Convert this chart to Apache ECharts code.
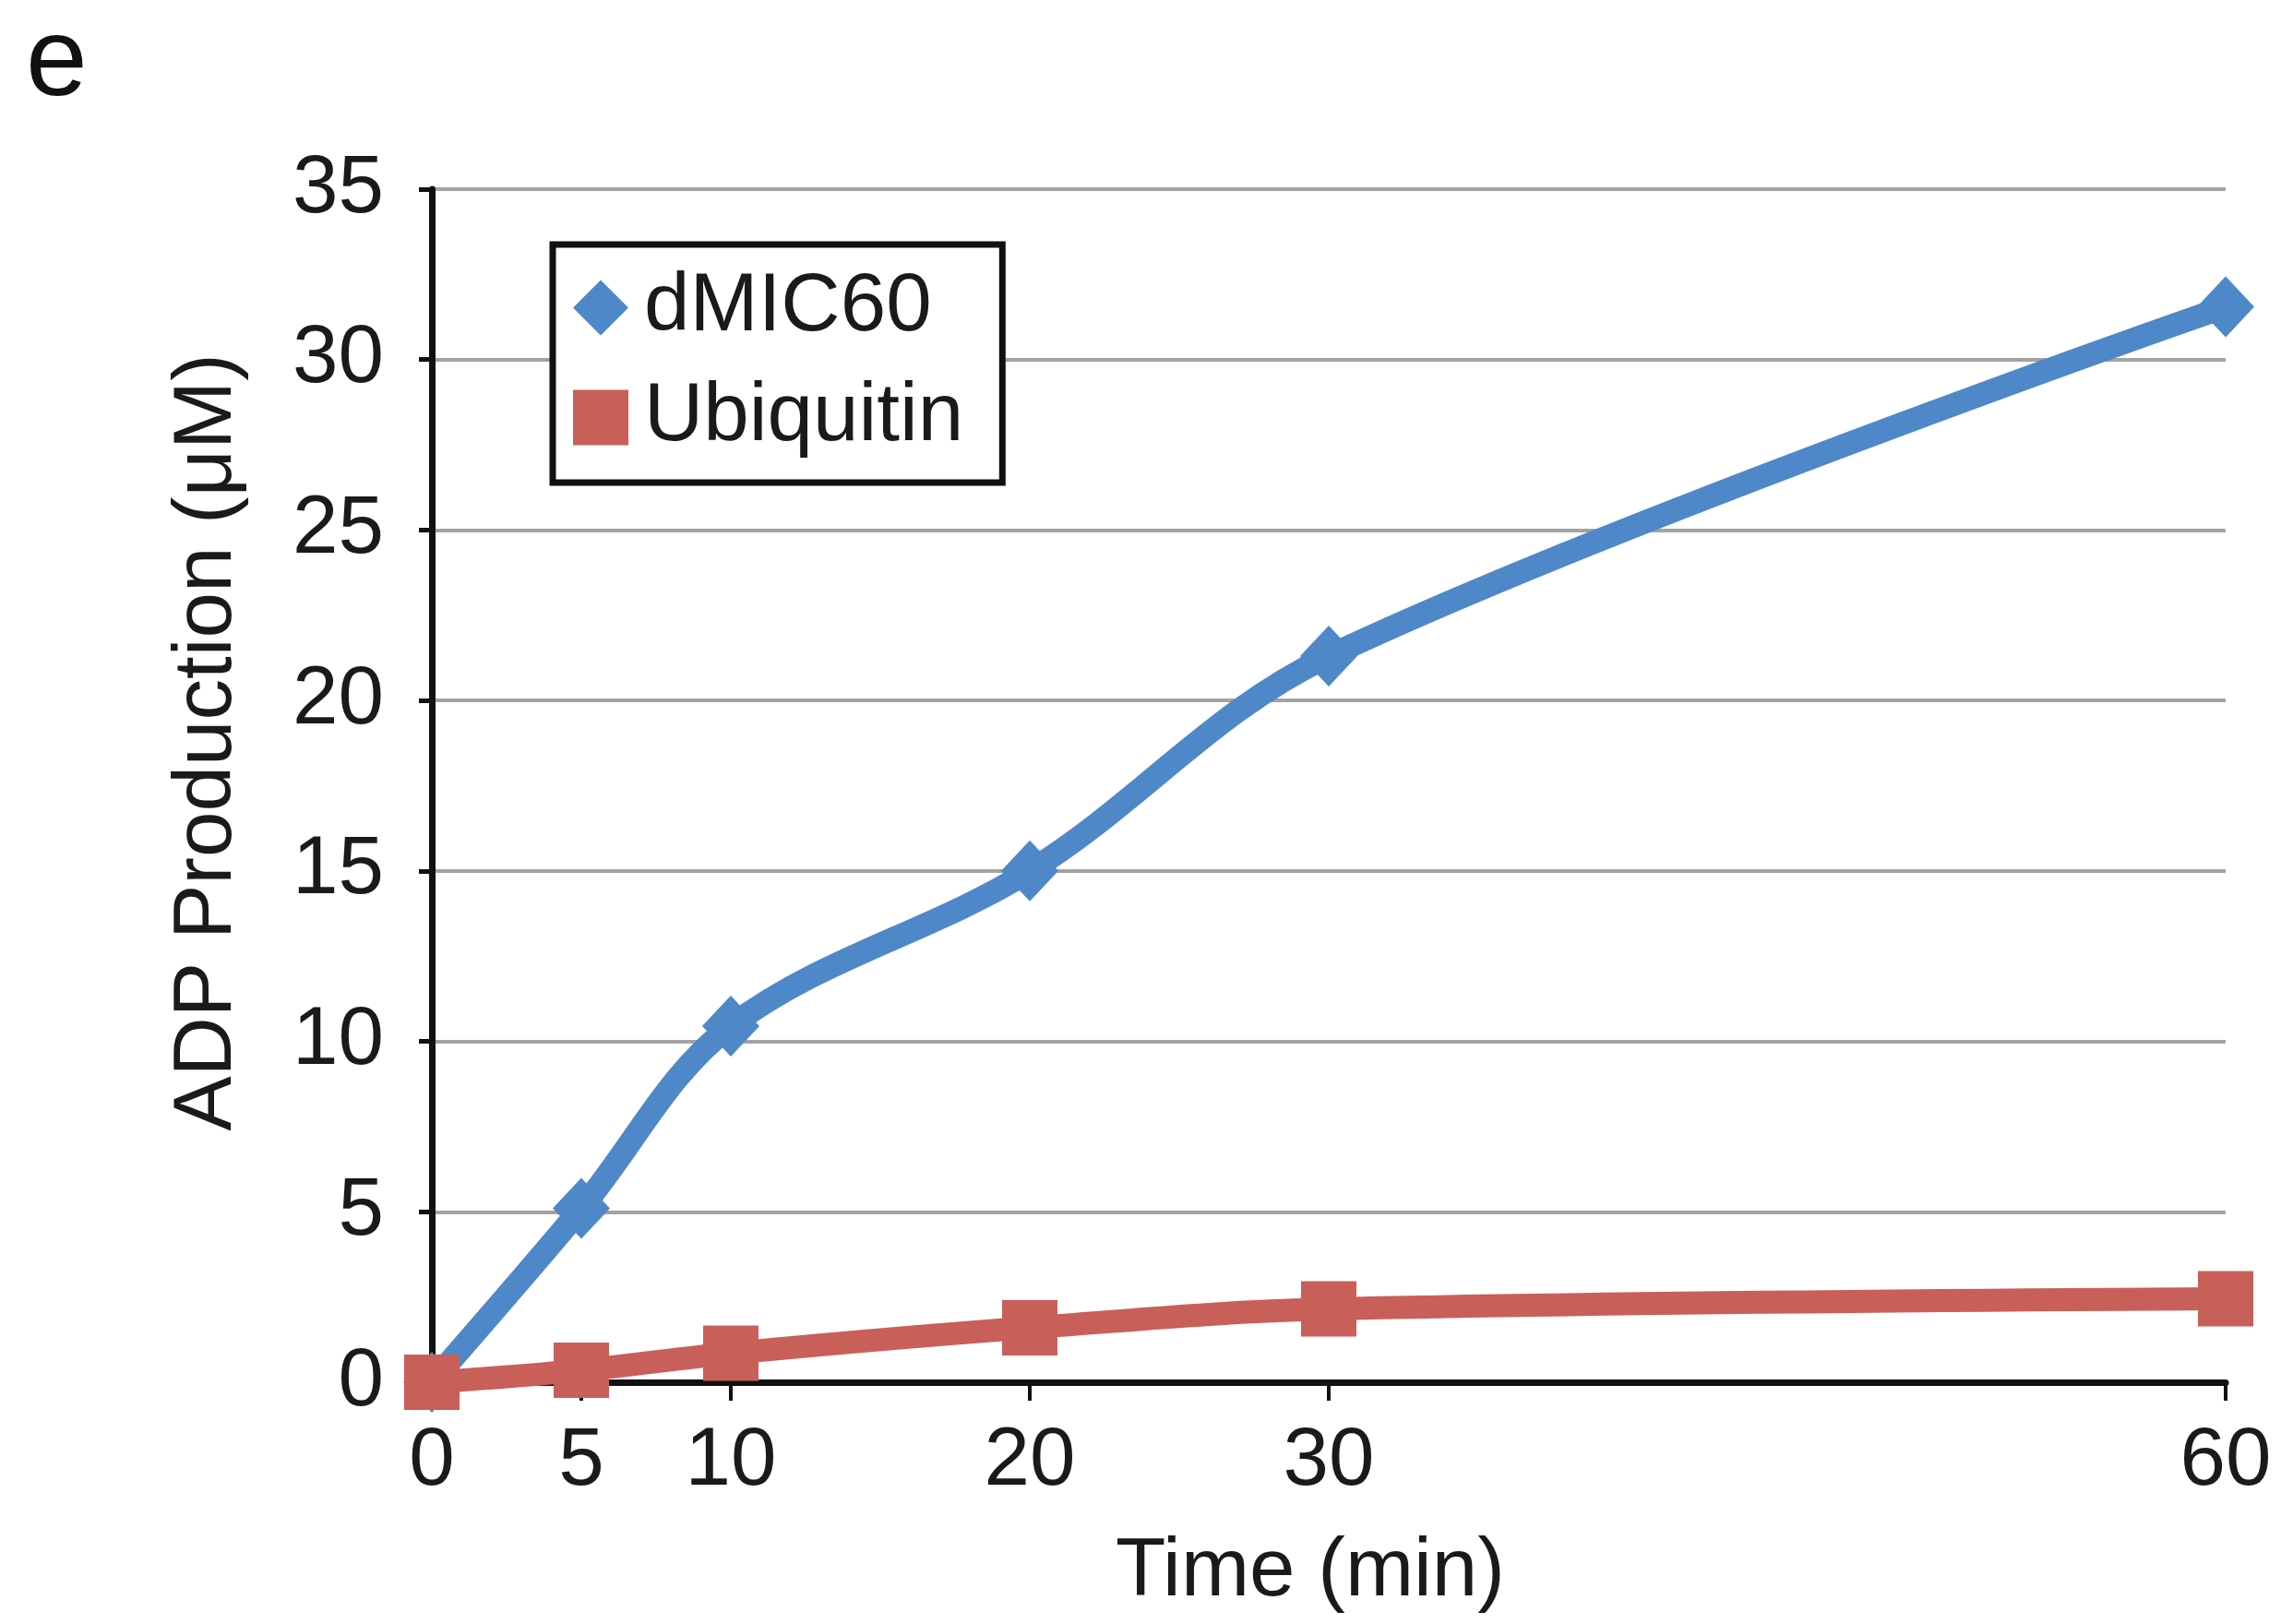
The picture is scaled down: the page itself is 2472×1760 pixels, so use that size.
<!DOCTYPE html>
<html>
<head>
<meta charset="utf-8">
<script src="https://cdn.jsdelivr.net/npm/echarts@6/dist/echarts.min.js"></script>
<style>
  html, body { margin: 0; padding: 0; background: #fff; }
  #chart { width: 2472px; height: 1760px; }
</style>
</head>
<body>
<div id="chart"></div>
<script>
// values
const timeMin = [0, 5, 10, 20, 30, 60];
const dmic60 = [0, 5.1, 10.45, 15.0, 21.3, 31.55];
const ubiquitin = [0, 0.35, 0.85, 1.6, 2.15, 2.45];
const xTicks = [0, 5, 10, 20, 30, 60];

const FONT = 'Liberation Sans';
const BLUE = '#4E88C8';
const RED = '#C95F59';

function pairs(xs, ys) {
  return xs.map((x, i) => [x, ys[i]]);
}

const chart = echarts.init(document.getElementById('chart'));

chart.setOption({
  backgroundColor: '#fff',
  animation: false,
  textStyle: { fontFamily: FONT },
  graphic: [
    {
      type: 'text',
      left: 28,
      top: 10,
      style: { text: 'e', font: '120px "Liberation Sans"', fill: '#111' }
    }
  ],
  grid: {
    left: 468,
    right: 60,
    top: 205,
    bottom: 262,
    containLabel: false
  },
  legend: {
    orient: 'vertical',
    left: 599,
    top: 265,
    padding: [24, 42, 26, 22],
    itemGap: 30,
    itemWidth: 60,
    itemHeight: 60,
    borderColor: '#111',
    borderWidth: 7,
    backgroundColor: '#fff',
    selectedMode: false,
    textStyle: { fontSize: 89, color: '#1a1a1a', fontFamily: FONT, padding: [0, 0, 0, 12] },
    data: [
      { name: 'dMIC60', icon: 'diamond' },
      { name: 'Ubiquitin', icon: 'rect' }
    ]
  },
  xAxis: {
    type: 'value',
    min: 0,
    max: 60,
    interval: 5,
    name: 'Time (min)',
    nameLocation: 'middle',
    nameGap: 162,
    nameTextStyle: { fontSize: 89, color: '#1a1a1a', fontFamily: FONT, padding: [0, 40, 0, 0] },
    axisLine: { lineStyle: { color: '#111', width: 7 } },
    axisTick: { customValues: xTicks, length: 20, lineStyle: { color: '#111', width: 4 } },
    axisLabel: { customValues: xTicks, fontSize: 89, color: '#1a1a1a', margin: 42, fontFamily: FONT },
    splitLine: { show: false }
  },
  yAxis: {
    type: 'value',
    min: 0,
    max: 35,
    interval: 5,
    name: 'ADP Production (\u03bcM)',
    nameLocation: 'middle',
    nameGap: 198,
    nameTextStyle: { fontSize: 89, color: '#1a1a1a', fontFamily: FONT, padding: [0, 0, 0, 94] },
    axisLine: { show: true, lineStyle: { color: '#111', width: 7 } },
    axisTick: { show: true, length: 14, lineStyle: { color: '#111', width: 5 } },
    axisLabel: { fontSize: 89, color: '#1a1a1a', margin: 52, fontFamily: FONT },
    splitLine: { show: true, lineStyle: { color: '#A3A3A3', width: 4 } }
  },
  series: [
    {
      name: 'dMIC60',
      type: 'line',
      data: pairs(timeMin, dmic60),
      smooth: 0.35,
      clip: false,
      symbol: 'diamond',
      symbolSize: [62, 66],
      lineStyle: { color: BLUE, width: 25 },
      itemStyle: { color: BLUE }
    },
    {
      name: 'Ubiquitin',
      type: 'line',
      data: pairs(timeMin, ubiquitin),
      smooth: 0.35,
      clip: false,
      symbol: 'rect',
      symbolSize: 60,
      lineStyle: { color: RED, width: 25 },
      itemStyle: { color: RED }
    }
  ]
});
</script>
</body>
</html>
